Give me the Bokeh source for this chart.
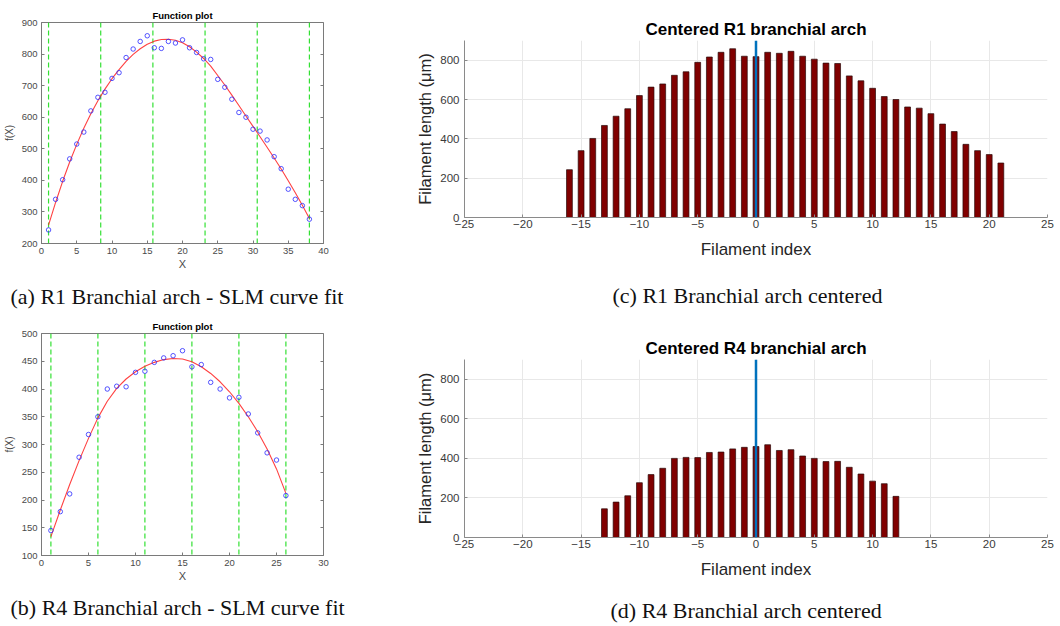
from bokeh.plotting import figure
from bokeh.layouts import column, row
from bokeh.models import Span, Title, Range1d, LinearAxis
from bokeh.embed import file_html
from bokeh.resources import INLINE

# ---------------- data ----------------
r1_x = list(range(1, 39))
r1_len = [243, 340, 402, 468, 515, 553, 620, 663, 679, 723, 741, 789, 816, 840, 858,
          820, 818, 840, 835, 845, 820, 805, 785, 783, 720, 695, 657, 615, 600, 562,
          556, 528, 475, 437, 372, 340, 320, 277]
r1_fit = [258, 330, 397, 458, 514, 565, 611, 652, 689, 722, 751, 777, 799, 817, 831,
          841, 846, 847, 844, 836, 823, 806, 786, 762, 732, 702, 670, 637, 604, 571,
          538, 505, 471, 436, 399, 361, 321, 279]
r1_knots = [1, 8.4, 15.8, 23.2, 30.6, 38]
r1_idx = list(range(-16, 22))

r4_x = list(range(1, 27))
r4_len = [145, 179, 211, 277, 318, 350, 400, 405, 404, 430, 432, 448, 456, 460, 469,
          440, 444, 412, 400, 384, 385, 355, 321, 285, 272, 208]
r4_fit = [134, 182, 228, 271, 311, 348, 378, 401, 418, 431, 441, 448, 453, 455, 454,
          449, 440, 428, 413, 395, 374, 350, 323, 292, 256, 212]
r4_knots = [1, 6, 11, 16, 21, 26]
r4_idx = list(range(-13, 13))

center_index = 0
bar_xticks = list(range(-25, 26, 5))
bar_yticks = [0, 200, 400, 600, 800]

SANS = "Liberation Sans"
SERIF = "Liberation Serif"


def add_caption(p, caption, offset, gap_px):
    # an empty spacer line between the axis and the caption, then the caption itself
    p.add_layout(Title(text=" ", text_font=SANS, text_font_size=f"{gap_px}px",
                       standoff=0), "below")
    p.add_layout(Title(text=caption, align="left", text_font=SERIF,
                       text_font_size="22px", text_font_style="normal",
                       text_color="#111111", offset=offset, standoff=0), "below")


def fit_panel(xs, ys, fit, knots, x_end, x_step, y_start, y_end, y_step,
              height, top, frame_h, caption, gap_px):
    p = figure(width=370, height=height,
               x_range=Range1d(0, x_end), y_range=Range1d(y_start, y_end),
               output_backend="svg", toolbar_location=None,
               min_border_left=41, min_border_right=47,
               min_border_top=top, min_border_bottom=height - top - frame_h,
               title="Function plot")
    p.title.text_font = SANS
    p.title.text_font_size = "9.5px"
    p.title.align = "center"
    p.title.standoff = 3
    p.title.text_color = "#000000"
    p.xgrid.visible = False
    p.ygrid.visible = False
    p.outline_line_color = "#7a7a7a"
    p.background_fill_color = "white"
    p.border_fill_color = "white"
    yticks = list(range(y_start, y_end + 1, y_step))
    for ax in (p.xaxis[0], p.yaxis[0]):
        ax.axis_line_color = "#7a7a7a"
        ax.major_tick_line_color = "#7a7a7a"
        ax.major_tick_in = 3
        ax.major_tick_out = 0
        ax.minor_tick_line_color = None
        ax.major_label_text_font = SANS
        ax.major_label_text_font_size = "9.5px"
        ax.major_label_text_color = "#4a4a4a"
        ax.axis_label_text_font = SANS
        ax.axis_label_text_font_style = "normal"
        ax.axis_label_text_color = "#4a4a4a"
    p.xaxis.ticker = list(range(0, x_end + 1, x_step))
    p.yaxis.ticker = yticks
    p.xaxis.axis_label = "X"
    p.xaxis.axis_label_text_font_size = "11px"
    p.xaxis.major_label_standoff = 4
    p.xaxis.axis_label_standoff = 1
    p.yaxis.axis_label = "f(X)"
    p.yaxis.axis_label_text_font_size = "10px"
    p.yaxis.major_label_standoff = 4
    p.yaxis.axis_label_standoff = 4

    # box ticks on the right side (no labels)
    rax = LinearAxis(ticker=yticks, axis_line_color=None, major_tick_line_color="#7a7a7a",
                     major_tick_in=3, major_tick_out=0, minor_tick_line_color=None,
                     major_label_text_font_size="1px", major_label_text_alpha=0,
                     major_label_standoff=0)
    p.add_layout(rax, "right")

    for k in knots:
        p.add_layout(Span(location=k, dimension="height", line_color="#33e033",
                          line_dash="5 3", line_width=1.2, level="underlay"))
    p.line(xs, fit, line_color="#ff2020", line_width=1.1, line_alpha=0.85)
    p.scatter(xs, ys, marker="circle", size=4.5, fill_color=None,
              line_color="#2b2bff", line_width=1, line_alpha=0.8)

    add_caption(p, caption, -31, gap_px)
    return p


def bar_panel(idx, vals, height, top, frame_h, title, caption, cap_offset, gap_px):
    p = figure(width=690, height=height,
               x_range=Range1d(-25, 25), y_range=Range1d(0, 900),
               output_backend="svg", toolbar_location=None,
               min_border_left=94, min_border_right=13,
               min_border_top=top, min_border_bottom=height - top - frame_h,
               title=title)
    p.title.text_font = SANS
    p.title.text_font_size = "17px"
    p.title.align = "center"
    p.title.standoff = 3
    p.title.text_color = "#000000"
    p.outline_line_color = None
    p.background_fill_color = "white"
    p.border_fill_color = "white"
    p.xaxis.ticker = bar_xticks
    p.yaxis.ticker = bar_yticks
    p.xgrid.grid_line_color = "#e8e8e8"
    p.ygrid.grid_line_color = "#e8e8e8"
    for ax in (p.xaxis[0], p.yaxis[0]):
        ax.axis_line_color = "#8a8a8a"
        ax.major_tick_line_color = "#8a8a8a"
        ax.major_tick_in = 3
        ax.major_tick_out = 0
        ax.minor_tick_line_color = None
        ax.major_label_text_font = SANS
        ax.major_label_text_font_size = "11.5px"
        ax.major_label_text_color = "#3a3a3a"
        ax.axis_label_text_font = SANS
        ax.axis_label_text_font_style = "normal"
        ax.axis_label_text_color = "#262626"
    p.xaxis.axis_label = "Filament index"
    p.xaxis.axis_label_text_font_size = "17px"
    p.xaxis.major_label_standoff = 2
    p.xaxis.axis_label_standoff = 9
    p.yaxis.axis_label = "Filament length (μm)"
    p.yaxis.axis_label_text_font_size = "16.5px"
    p.yaxis.major_label_standoff = 5
    p.yaxis.axis_label_standoff = 3

    p.vbar(x=idx, top=vals, width=0.5, bottom=0, fill_color="#800000",
           line_color="#2a0a0a", line_width=0.7)
    p.add_layout(Span(location=center_index, dimension="height",
                      line_color="#0072BD", line_width=2.5))

    add_caption(p, caption, cap_offset, gap_px)
    return p


fa = fit_panel(r1_x, r1_len, r1_fit, r1_knots, 40, 5, 200, 900, 100,
               312, 22, 221, "(a) R1 Branchial arch - SLM curve fit", 6.3)
fb = fit_panel(r4_x, r4_len, r4_fit, r4_knots, 30, 5, 100, 500, 50,
               314, 21, 222, "(b) R4 Branchial arch - SLM curve fit", 5)
fc = bar_panel(r1_idx, r1_len, 312, 40, 177, "Centered R1 branchial arch",
               "(c) R1 Branchial arch centered", 148, 16)
fd = bar_panel(r4_idx, r4_len, 314, 47, 178, "Centered R4 branchial arch",
               "(d) R4 Branchial arch centered", 146, 11.5)

layout = row(column(column(fa), column(fb)), column(column(fc), column(fd)))

open("out.html", "w").write(file_html(layout, INLINE))
